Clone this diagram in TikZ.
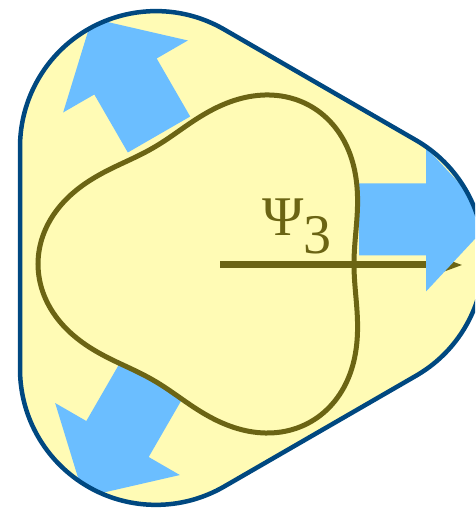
\documentclass[tikz,border=0pt]{standalone}
\usepackage{fontspec}
\setmainfont{Liberation Serif}
\usetikzlibrary{arrows.meta}
\definecolor{shellyellow}{HTML}{FFFBB5}
\definecolor{shellblue}{HTML}{004880}
\definecolor{pushblue}{HTML}{6BBEFF}
\definecolor{wallolive}{HTML}{6B6414}
\tikzset{
  pusharrow/.pic={\fill[pushblue] (0,-36) -- (67,-36) -- (67,-72) -- (134,0) -- (67,72) -- (67,36) -- (0,36) -- cycle;},
  wall/.style={color=wallolive,line width=5pt},
}
\begin{document}
\begin{tikzpicture}[x=1pt,y=1pt]
\useasboundingbox (0,0) rectangle (475,510);
\clip (0,0) rectangle (475,510);
\begin{scope}
\clip (416,134.22) arc (-60:60:136) -- (224,480.63) arc (60:180:136) -- (20,141.15) arc (180:300:136) -- cycle;
\fill[shellyellow] (0,0) rectangle (475,510);
\coordinate (O) at (220,245);
\coordinate (T) at (462,245);
\draw[color=wallolive,line width=7pt,-{Stealth[length=22pt,width=16pt]}] (O) -- (T);
\pic[rotate=0] at (359,290.5) {pusharrow};
\pic[rotate=120] at (159,375.5) {pusharrow};
\pic[rotate=240] at (151,129) {pusharrow};
\draw[wall,smooth] plot[domain=0:360,samples=145] ({220+(158-24*cos(3*\x))*cos(\x)},{246+(158-24*cos(3*\x))*sin(\x)});
\end{scope}
\draw[shellblue,line width=4.5pt] (416,134.22) arc (-60:60:136) -- (224,480.63) arc (60:180:136) -- (20,141.15) arc (180:300:136) -- cycle;
\node[color=wallolive,font=\fontsize{56}{56}\selectfont,anchor=base west,inner sep=0pt] (psi) at (262,274) {Ψ\raisebox{-18pt}{3}};
\end{tikzpicture}
\end{document}
